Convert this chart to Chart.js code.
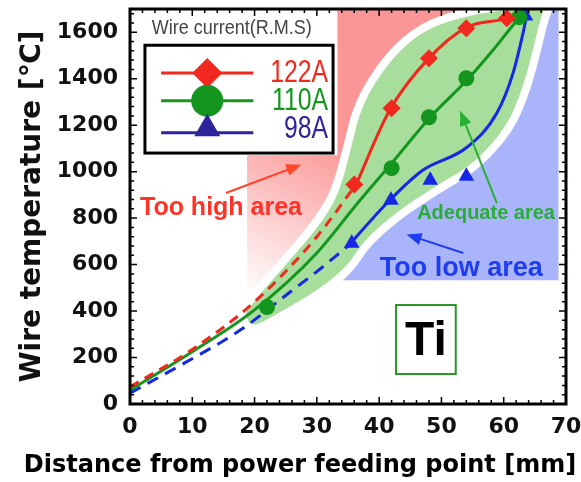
<!DOCTYPE html>
<html>
<head>
<meta charset="utf-8">
<script src="https://cdn.jsdelivr.net/npm/chart.js@4.4.0/dist/chart.umd.min.js"></script>
<style>
html, body { margin: 0; padding: 0; background: #fff; }
</style>
</head>
<body>
<canvas id="wireTemp" width="581" height="482"></canvas>
<script>
// axis ticks
var xTicks = [0, 10, 20, 30, 40, 50, 60, 70];
var yTicks = [0, 200, 400, 600, 800, 1000, 1200, 1400, 1600];

// measured points (markers)
var x122 = [36, 42, 48, 54, 60.5];
var y122 = [945, 1273, 1488, 1617, 1660];
var x110 = [22, 42, 48, 54, 62.5];
var y110 = [417, 1015, 1234, 1402, 1665];
var x98 = [35.6, 41.9, 48.2, 54, 63.5];
var y98 = [692, 877, 963, 980, 1670];

// fitted curves, dashed part = extrapolation
var red122DashX = [0, 10, 20, 30, 36.3];
var red122DashY = [73, 235, 440, 720, 945];
var red122X = [36.3, 41.7, 47.7, 54.1, 60.5, 63.7];
var red122Y = [945, 1265, 1480, 1622, 1660, 1700];
var green110X = [0, 10, 20, 30, 36.4, 42, 48.2, 54.1, 58.5, 62.6, 64];
var green110Y = [60, 225, 405, 650, 860, 1036, 1234, 1394, 1530, 1665, 1700];
var blue98DashX = [0, 9, 17.7, 25.7, 30, 35];
var blue98DashY = [47, 180, 318, 482, 570, 680];
var blue98X = [35, 41.7, 47, 54.1, 58.9, 61.5, 63.1, 63.9];
var blue98Y = [680, 877, 1006, 1105, 1252, 1424, 1596, 1700];

// adequate area band (upper and lower edge)
var bandUpperX = [18.5, 20.1, 24.9, 30.2, 33.5, 35.5, 37.2, 41.7, 47, 54.1, 61.5];
var bandUpperY = [385, 450, 595, 760, 900, 1100, 1290, 1480, 1609, 1673, 1700];
var bandLowerX = [18.5, 19.5, 22.8, 30.2, 35, 37.4, 42.9, 49.8, 55, 60.5, 63.1, 64.7, 65.8, 66.5];
var bandLowerY = [385, 330, 374, 490, 595, 700, 830, 950, 1030, 1191, 1363, 1523, 1652, 1700];

var legendItems = ['122A', '110A', '98A'];

function pts(xs, ys) {
    return xs.map(function (x, i) { return { x: x, y: ys[i] }; });
}

var RED = 'rgb(240, 40, 30)';
var GREEN = 'rgb(20, 150, 30)';
var BLUE = 'rgb(20, 40, 230)';
var NAVY = 'rgb(45, 35, 155)';
var BOLD = '"DejaVu Sans", sans-serif';
var ARIAL = '"Liberation Sans", Arial, sans-serif';

function smoothPath(ctx, p, start) {
    if (start) ctx.moveTo(p[0][0], p[0][1]); else ctx.lineTo(p[0][0], p[0][1]);
    for (var i = 1; i < p.length - 1; i++) {
        var mx = (p[i][0] + p[i + 1][0]) / 2, my = (p[i][1] + p[i + 1][1]) / 2;
        ctx.quadraticCurveTo(p[i][0], p[i][1], mx, my);
    }
    ctx.lineTo(p[p.length - 1][0], p[p.length - 1][1]);
}

function arrow(ctx, x1, y1, x2, y2, color) {
    var a = Math.atan2(y2 - y1, x2 - x1);
    ctx.strokeStyle = color; ctx.fillStyle = color; ctx.lineWidth = 2;
    ctx.beginPath(); ctx.moveTo(x1, y1); ctx.lineTo(x2 - 8 * Math.cos(a), y2 - 8 * Math.sin(a)); ctx.stroke();
    ctx.beginPath();
    ctx.moveTo(x2, y2);
    ctx.lineTo(x2 - 15 * Math.cos(a) + 6 * Math.sin(a), y2 - 15 * Math.sin(a) - 6 * Math.cos(a));
    ctx.lineTo(x2 - 15 * Math.cos(a) - 6 * Math.sin(a), y2 - 15 * Math.sin(a) + 6 * Math.cos(a));
    ctx.closePath(); ctx.fill();
}

// narrow text: squeeze horizontally
function narrowText(ctx, txt, x, y, sx) {
    ctx.save();
    ctx.translate(x, y);
    ctx.scale(sx, 1);
    ctx.fillText(txt, 0, 0);
    ctx.restore();
}

var areas = {
    id: 'areas',
    beforeDatasetsDraw: function (chart) {
        var ctx = chart.ctx, sx = chart.scales.x, sy = chart.scales.y, ca = chart.chartArea;
        var X = function (v) { return sx.getPixelForValue(v); };
        var Y = function (v) { return sy.getPixelForValue(v); };
        var up = bandUpperX.map(function (x, i) { return [X(x), Y(bandUpperY[i])]; });
        var lo = bandLowerX.map(function (x, i) { return [X(x), Y(bandLowerY[i])]; });
        ctx.save();
        ctx.beginPath(); ctx.rect(ca.left, ca.top, ca.right - ca.left, ca.bottom - ca.top); ctx.clip();

        // too high area
        var g = ctx.createLinearGradient(X(18.8), Y(470), X(31), Y(1150));
        g.addColorStop(0, 'rgba(250, 150, 150, 0)');
        g.addColorStop(1, 'rgba(250, 150, 150, 1)');
        ctx.fillStyle = g;
        ctx.beginPath();
        ctx.moveTo(X(18.8), Y(440));
        ctx.lineTo(X(18.8), Y(1700));
        ctx.lineTo(X(61.5), Y(1700));
        smoothPath(ctx, up.slice().reverse(), false);
        ctx.closePath(); ctx.fill();

        // too low area
        ctx.fillStyle = 'rgb(170, 180, 250)';
        ctx.beginPath();
        ctx.moveTo(X(34), Y(533));
        ctx.lineTo(X(68.8), Y(533));
        ctx.lineTo(X(68.8), Y(1700));
        smoothPath(ctx, lo.slice().reverse(), false);
        ctx.closePath(); ctx.fill();

        // white patch behind the legend
        ctx.fillStyle = '#fff';
        ctx.fillRect(ca.left, ca.top, X(33.3) - ca.left, Y(1071) - ca.top);

        // adequate area with white halo
        ctx.beginPath();
        smoothPath(ctx, up, true);
        smoothPath(ctx, lo.slice().reverse(), false);
        ctx.closePath();
        ctx.strokeStyle = '#fff'; ctx.lineWidth = 16; ctx.lineJoin = 'round'; ctx.stroke();
        ctx.fillStyle = 'rgb(168, 222, 156)'; ctx.fill();
        ctx.restore();
    },
    afterDraw: function (chart) {
        var ctx = chart.ctx, sx = chart.scales.x, sy = chart.scales.y, ca = chart.chartArea;
        var X = function (v) { return sx.getPixelForValue(v); };
        var Y = function (v) { return sy.getPixelForValue(v); };
        ctx.save();

        // ticks inside the frame
        ctx.strokeStyle = '#000'; ctx.lineWidth = 1.5;
        ctx.beginPath();
        for (var v = 0; v <= 70; v += 2) {
            var l = v % 10 === 0 ? 7 : 4, x = X(v);
            ctx.moveTo(x, ca.bottom); ctx.lineTo(x, ca.bottom - l);
            ctx.moveTo(x, ca.top); ctx.lineTo(x, ca.top + l);
        }
        for (var w = 0; w <= 1700; w += 40) {
            var m = w % 200 === 0 ? 7 : 4, y = Y(w);
            ctx.moveTo(ca.left, y); ctx.lineTo(ca.left + m, y);
            ctx.moveTo(ca.right, y); ctx.lineTo(ca.right - m, y);
        }
        ctx.stroke();
        ctx.lineWidth = 3;
        ctx.strokeRect(ca.left, ca.top, ca.right - ca.left, ca.bottom - ca.top);

        // legend
        ctx.fillStyle = '#444'; ctx.font = '20px ' + ARIAL;
        ctx.textBaseline = 'middle'; ctx.textAlign = 'left';
        narrowText(ctx, 'Wire current(R.M.S)', X(3.5), Y(1617), 0.9);
        ctx.fillStyle = '#fff'; ctx.strokeStyle = '#000'; ctx.lineWidth = 3;
        ctx.fillRect(X(2.4), Y(1544), X(32.6) - X(2.4), Y(1080) - Y(1544));
        ctx.strokeRect(X(2.4), Y(1544), X(32.6) - X(2.4), Y(1080) - Y(1544));
        var rowY = [Y(1425), Y(1305), Y(1185)];
        var cols = [RED, GREEN, NAVY];
        var styles = [
            { pointStyle: 'rectRot', radius: 15, rotation: 0, borderWidth: 0 },
            { pointStyle: 'circle', radius: 16, rotation: 0, borderWidth: 0 },
            { pointStyle: 'triangle', radius: 15, rotation: 0, borderWidth: 0 }
        ];
        for (var i = 0; i < 3; i++) {
            var ly = rowY[i] + (i === 2 ? 4 : 0);
            ctx.strokeStyle = cols[i]; ctx.lineWidth = 3;
            ctx.beginPath(); ctx.moveTo(X(5), ly); ctx.lineTo(X(19.8), ly); ctx.stroke();
            ctx.fillStyle = cols[i]; ctx.strokeStyle = cols[i];
            Chart.helpers.drawPoint(ctx, styles[i], X(12.4), rowY[i]);
            ctx.font = '31px ' + ARIAL; ctx.textAlign = 'right';
            narrowText(ctx, legendItems[i], X(31.8), rowY[i] + 1, 0.8);
        }

        // annotations
        ctx.textAlign = 'left';
        arrow(ctx, X(15.4), Y(908), X(27.5), Y(1030), 'rgb(255, 70, 40)');
        ctx.fillStyle = 'rgb(255, 50, 40)'; ctx.font = 'bold 25px ' + ARIAL;
        ctx.fillText('Too high area', X(1.6), Y(845));

        arrow(ctx, X(58.9), Y(865), X(53), Y(1262), 'rgb(40, 175, 50)');
        ctx.fillStyle = 'rgb(40, 175, 50)'; ctx.font = 'bold 20px ' + ARIAL;
        ctx.fillText('Adequate area', X(46.1), Y(822));

        arrow(ctx, X(53.5), Y(650), X(44.4), Y(730), 'rgb(30, 60, 240)');
        ctx.fillStyle = 'rgb(30, 60, 240)'; ctx.font = 'bold 27px ' + ARIAL;
        ctx.fillText('Too low area', X(40.1), Y(583));

        ctx.strokeStyle = 'rgb(40, 150, 40)'; ctx.lineWidth = 2;
        ctx.strokeRect(X(42.7), Y(426), X(52.3) - X(42.7), Y(129) - Y(426));
        ctx.fillStyle = '#000'; ctx.font = 'bold 48px ' + ARIAL; ctx.textAlign = 'center';
        ctx.fillText('Ti', X(47.5), Y(275) + 2);

        // x axis title
        ctx.font = 'bold 24px ' + BOLD;
        ctx.fillText('Distance from power feeding point [mm]', 300, 466);
        ctx.restore();
    }
};

function line(data, color, dash) {
    return {
        data: data, showLine: true, borderColor: color, borderWidth: 3,
        borderDash: dash || [], pointRadius: 0, cubicInterpolationMode: 'monotone', fill: false
    };
}

var ctxWire = document.getElementById('wireTemp').getContext('2d');
new Chart(ctxWire, {
    type: 'scatter',
    data: {
        datasets: [
            { label: '122A', data: pts(x122, y122), pointStyle: 'rectRot', pointRadius: 9, backgroundColor: RED, borderColor: RED, borderWidth: 0 },
            { label: '110A', data: pts(x110, y110), pointStyle: 'circle', pointRadius: 8, backgroundColor: GREEN, borderColor: GREEN, borderWidth: 0 },
            { label: '98A', data: pts(x98, y98), pointStyle: 'triangle', pointRadius: 9, backgroundColor: BLUE, borderColor: BLUE, borderWidth: 0 },
            line(pts(red122X, red122Y), RED),
            line(pts(red122DashX, red122DashY), RED, [10, 7]),
            line(pts(green110X, green110Y), GREEN),
            line(pts(blue98X, blue98Y), BLUE),
            line(pts(blue98DashX, blue98DashY), BLUE, [12, 8])
        ]
    },
    options: {
        responsive: false,
        animation: false,
        layout: { padding: { top: 9, right: 15, left: 0, bottom: 0 } },
        plugins: { legend: { display: false }, tooltip: { enabled: false } },
        scales: {
            x: {
                type: 'linear', min: 0, max: 70,
                afterBuildTicks: function (s) { s.ticks = xTicks.map(function (v) { return { value: v }; }); },
                afterFit: function (s) { s.height = 78; s.paddingLeft = 0; s.paddingRight = 0; },
                ticks: { font: { family: BOLD, weight: 'bold', size: 22 }, color: '#111', padding: 10, maxRotation: 0,
                    callback: function (v) { return String(v); } },
                grid: { display: false, drawTicks: false },
                border: { display: false }
            },
            y: {
                type: 'linear', min: 0, max: 1700,
                afterBuildTicks: function (s) { s.ticks = yTicks.map(function (v) { return { value: v }; }); },
                afterFit: function (s) { s.width = 130; s.paddingTop = 0; s.paddingBottom = 0; },
                ticks: { font: { family: BOLD, weight: 'bold', size: 22 }, color: '#111', padding: 12,
                    callback: function (v) { return String(v); } },
                grid: { display: false, drawTicks: false },
                border: { display: false },
                title: { display: true, text: 'Wire temperature [℃]', color: '#111', font: { family: BOLD, weight: 'bold', size: 28 }, padding: { top: 16, bottom: 0 } }
            }
        }
    },
    plugins: [areas]
});
</script>
</body>
</html>
